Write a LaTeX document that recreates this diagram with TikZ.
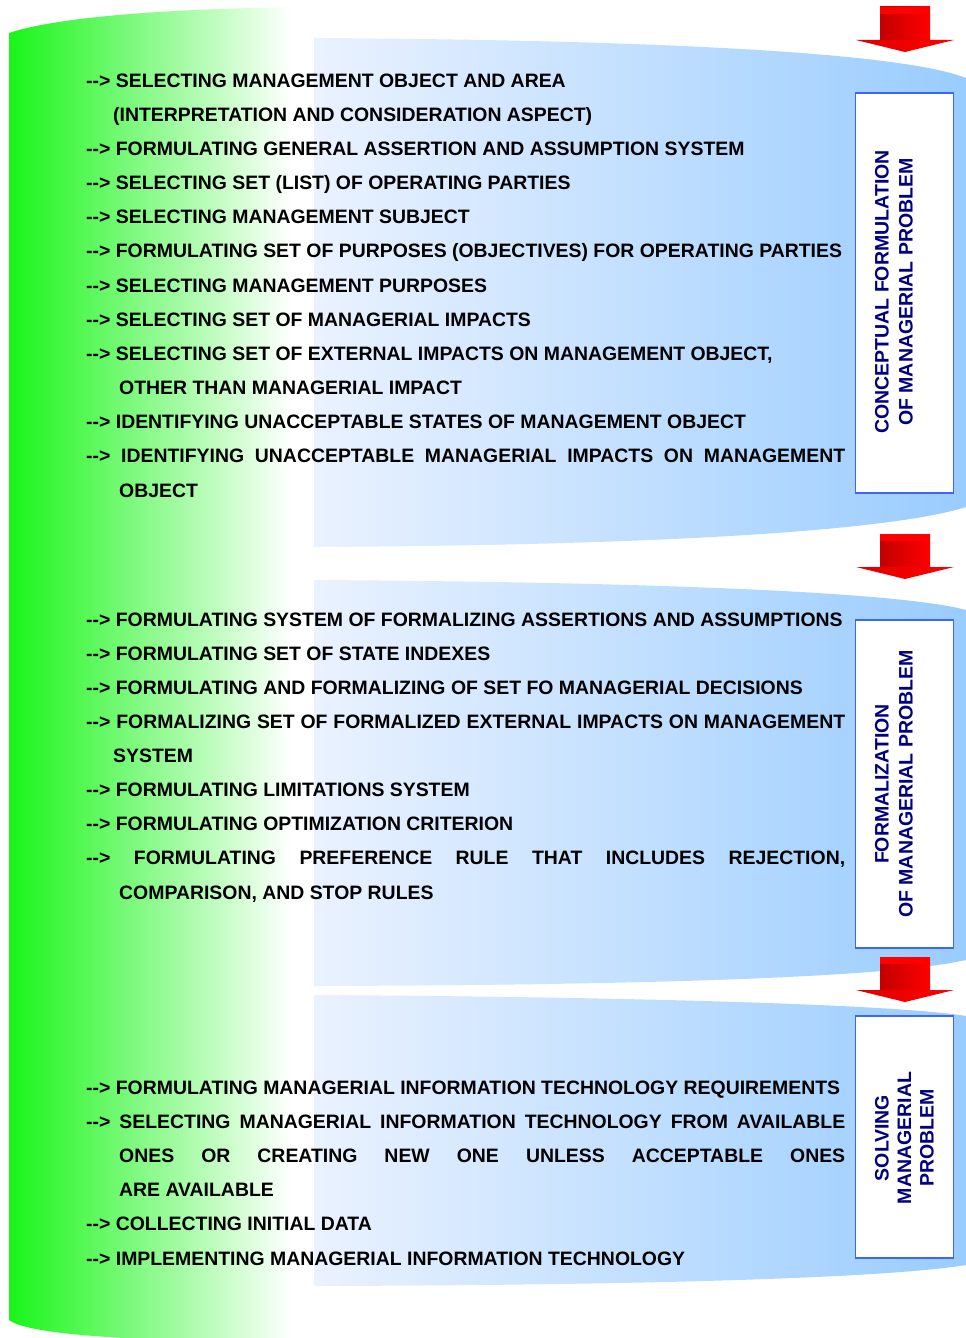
\documentclass[tikz,border=0pt]{standalone}
\usepackage{fontspec}
\setmainfont{Liberation Sans}
\definecolor{gbright}{RGB}{25,245,25}
\definecolor{gmid}{RGB}{170,255,170}
\definecolor{bluel}{RGB}{234,242,255}
\definecolor{bluer}{RGB}{153,204,255}
\definecolor{boxblue}{RGB}{60,100,255}
\definecolor{navytext}{RGB}{0,0,128}
\definecolor{darkred}{RGB}{195,0,0}
\newcommand\arw{-\kern0pt-\kern0pt>\ }
\begin{document}
\begin{tikzpicture}[x=1pt,y=-1pt,
  itemtext/.style={anchor=base west, inner sep=0pt, font=\fontsize{19.42}{23}\selectfont\bfseries},
  stagebox/.style={draw=boxblue, line width=1.4pt, fill=white, minimum width=98pt, inner sep=0pt},
  stagelabel/.style={rotate=90, align=center, text=navytext, inner sep=0pt, font=\fontsize{19.5}{24}\selectfont\bfseries},
  band/.style={left color=bluel, right color=bluer, draw=none},
  shaft/.style={left color=darkred, middle color=red, right color=red, draw=none},
  arrowhead/.style={left color=red!88!black, middle color=red, right color=red, draw=none},
]
\useasboundingbox (0,0) rectangle (966,1338);
% green background shape
\begin{scope}
  \clip (9,33) .. controls (60,16) and (180,8) .. (314,7) -- (314,1342)
    .. controls (150,1342) and (30,1336) .. (9,1320) -- cycle;
  \shade[left color=gbright, middle color=gmid, right color=white] (9,0) rectangle (292,1345);
\end{scope}
% blue bands
\shade[band] (314,38) -- (314,547) .. controls (700,545) and (900,528) .. (966,507)
  -- (966,78) .. controls (900,52) and (650,40) .. (314,38) -- cycle;
\shade[band] (314,580) -- (314,986) .. controls (700,985) and (900,975) .. (966,960)
  -- (966,610) .. controls (900,592) and (650,582) .. (314,580) -- cycle;
\shade[band] (314,995) -- (314,1286) .. controls (700,1285) and (900,1276) .. (966,1265)
  -- (966,1016) .. controls (900,1005) and (650,997) .. (314,995) -- cycle;
% red arrows
\foreach \t in {7,534,957}{
  \shade[shaft] (880,\t) rectangle (930,\t+33);
  \fill[red] (880,\t) rectangle (930,\t+7);
  \shade[arrowhead] (856,\t+33) -- (954,\t+33) -- (905,\t+45) -- cycle;
}
% stage boxes
\node[stagebox, minimum height=400pt] (box1) at (904.5,293) {};
\node[stagebox, minimum height=328pt] (box2) at (904.5,784) {};
\node[stagebox, minimum height=242pt] (box3) at (904.5,1137) {};
\node[stagelabel] (lab1) at (894,292) {CONCEPTUAL FORMULATION\\OF MANAGERIAL PROBLEM};
\node[stagelabel] (lab2) at (894,784) {FORMALIZATION\\OF MANAGERIAL PROBLEM};
\node[stagelabel, font=\fontsize{19.5}{22.5}\selectfont\bfseries] (lab3) at (904.5,1138) {SOLVING\\MANAGERIAL\\PROBLEM};
% band 1 text
\node[itemtext] (a1) at (86,87) {\arw SELECTING MANAGEMENT OBJECT AND AREA};
\node[itemtext] (a2) at (113,121.2) {(INTERPRETATION AND CONSIDERATION ASPECT)};
\node[itemtext] (a3) at (86,155.3) {\arw FORMULATING GENERAL ASSERTION AND ASSUMPTION SYSTEM};
\node[itemtext] (a4) at (86,189.5) {\arw SELECTING SET (LIST) OF OPERATING PARTIES};
\node[itemtext] (a5) at (86,223.7) {\arw SELECTING MANAGEMENT SUBJECT};
\node[itemtext] (a6) at (86,257.9) {\arw FORMULATING SET OF PURPOSES (OBJECTIVES) FOR OPERATING PARTIES};
\node[itemtext] (a7) at (86,292.0) {\arw SELECTING MANAGEMENT PURPOSES};
\node[itemtext] (a8) at (86,326.2) {\arw SELECTING SET OF MANAGERIAL IMPACTS};
\node[itemtext] (a9) at (86,360.4) {\arw SELECTING SET OF EXTERNAL IMPACTS ON MANAGEMENT OBJECT,};
\node[itemtext] (a10) at (119,394.5) {OTHER THAN MANAGERIAL IMPACT};
\node[itemtext] (a11) at (86,428.7) {\arw IDENTIFYING UNACCEPTABLE STATES OF MANAGEMENT OBJECT};
\node[itemtext] (a12) at (86,462.9) {\makebox[759pt][s]{\arw IDENTIFYING UNACCEPTABLE MANAGERIAL IMPACTS ON MANAGEMENT}};
\node[itemtext] (a13) at (119,497.0) {OBJECT};
% band 2 text
\node[itemtext] (f1) at (86,626) {\arw FORMULATING SYSTEM OF FORMALIZING ASSERTIONS AND ASSUMPTIONS};
\node[itemtext] (f2) at (86,660.1) {\arw FORMULATING SET OF STATE INDEXES};
\node[itemtext] (f3) at (86,694.3) {\arw FORMULATING AND FORMALIZING OF SET FO MANAGERIAL DECISIONS};
\node[itemtext] (f4) at (86,728.4) {\makebox[759pt][s]{\arw FORMALIZING SET OF FORMALIZED EXTERNAL IMPACTS ON MANAGEMENT}};
\node[itemtext] (f5) at (113,762.5) {SYSTEM};
\node[itemtext] (f6) at (86,796.6) {\arw FORMULATING LIMITATIONS SYSTEM};
\node[itemtext] (f7) at (86,830.8) {\arw FORMULATING OPTIMIZATION CRITERION};
\node[itemtext] (f8) at (86,864.9) {\makebox[759pt][s]{\arw FORMULATING PREFERENCE RULE THAT INCLUDES REJECTION,}};
\node[itemtext] (f9) at (119,899.0) {COMPARISON, AND STOP RULES};
% band 3 text
\node[itemtext] (s1) at (86,1094) {\arw FORMULATING MANAGERIAL INFORMATION TECHNOLOGY REQUIREMENTS};
\node[itemtext] (s2) at (86,1128.2) {\makebox[759pt][s]{\arw SELECTING MANAGERIAL INFORMATION TECHNOLOGY FROM AVAILABLE}};
\node[itemtext] (s3) at (119,1162.4) {\makebox[726pt][s]{ONES OR CREATING NEW ONE UNLESS ACCEPTABLE ONES}};
\node[itemtext] (s4) at (119,1196.6) {ARE AVAILABLE};
\node[itemtext] (s5) at (86,1230.8) {\arw COLLECTING INITIAL DATA};
\node[itemtext] (s6) at (86,1265) {\arw IMPLEMENTING MANAGERIAL INFORMATION TECHNOLOGY};
\end{tikzpicture}
\end{document}
